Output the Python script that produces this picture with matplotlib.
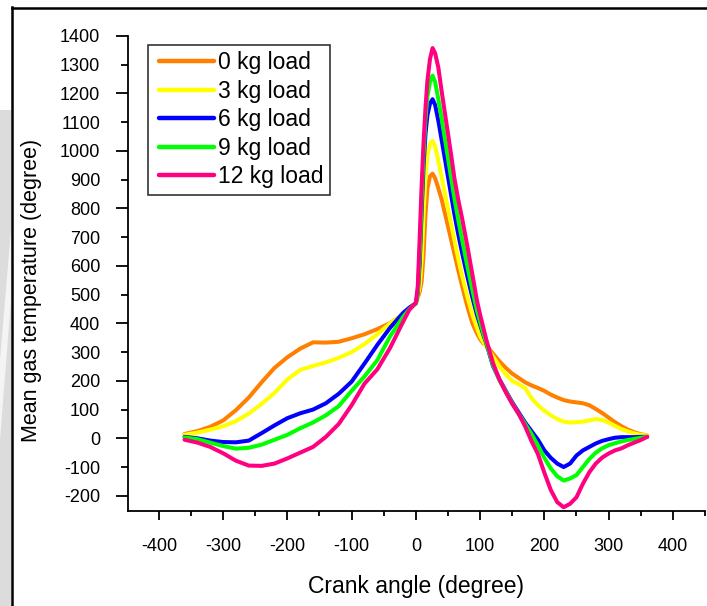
import matplotlib
matplotlib.use('Agg')
import matplotlib.pyplot as plt
from matplotlib.ticker import MultipleLocator, FormatStrFormatter, NullFormatter
from matplotlib.patches import Rectangle, Polygon
from matplotlib.lines import Line2D
from matplotlib.legend_handler import HandlerLine2D

plt.rcParams['font.family'] = ['Liberation Sans', 'DejaVu Sans']
plt.rcParams['axes.unicode_minus'] = False

# crank angle (degree), shared by all load cases
ANGLE = [-360, -340, -320, -300, -280, -260, -240, -220, -200, -180, -160, -140,
         -120, -100, -80, -60, -40, -20, -10, 0, 3, 6, 9, 12, 15, 18, 22, 26,
         30, 35, 40, 45, 50, 55, 60, 66, 72, 80, 88, 95, 100, 105, 110, 120,
         130, 140, 150, 160, 170, 180, 190, 200, 210, 220, 230, 240, 250, 260,
         270, 280, 290, 300, 310, 320, 330, 340, 350, 360]

# mean gas temperature for each load
T_0KG = [15, 25, 40, 62, 98, 142, 195, 245, 282, 312, 334, 333, 336, 348, 362, 380, 401, 430,
         450, 470,
         490, 510, 545, 640, 780, 870,
         912, 921, 905, 870, 832, 785, 738, 690, 642,
         585, 530, 460, 400, 365, 345, 330, 322,
         295, 268, 245, 225, 210, 195, 184, 175, 165, 152, 142, 133, 128, 125, 122, 115,
         102, 88, 72, 56, 42, 30, 21, 14, 10]
T_3KG = [12, 20, 30, 42, 60, 86, 120, 158, 205, 238, 252, 264, 280, 300, 328, 362, 400, 432,
         452, 472,
         495, 530, 620, 780, 910, 985,
         1025, 1035, 1015, 965, 910, 855, 800, 745, 690,
         625, 565, 495, 430, 385, 355, 335, 318,
         285, 250, 222, 200, 188, 175, 140, 115, 96, 80, 67, 58, 55, 56, 58, 62,
         67, 64, 55, 43, 32, 24, 17, 12, 10]
T_6KG = [5, 0, -8, -13, -14, -8, 18, 45, 70, 87, 100, 122, 155, 197, 260, 325, 385, 436,
         455, 470,
         505, 610, 790, 950, 1060, 1125,
         1165, 1180, 1160, 1105, 1040, 975, 910, 845, 780,
         710, 645, 565, 490, 430, 395, 360, 328,
         252, 205, 165, 125, 90, 55, 25, -5, -42, -68, -88, -100, -88, -60, -42, -30,
         -18, -9, -3, 2, 4, 4, 4, 5, 5]
T_9KG = [3, -3, -15, -27, -36, -33, -22, -5, 12, 35, 55, 80, 112, 165, 215, 272, 355, 422,
         450, 470,
         510, 640, 830, 990, 1110, 1190,
         1240, 1262, 1240, 1180, 1115, 1045, 975, 905, 835,
         760, 690, 600, 515, 445, 405, 365, 330,
         255, 203, 163, 122, 85, 50, 15, -25, -68, -105, -132, -147, -140, -128, -100, -72,
         -50, -35, -24, -17, -11, -6, -2, 2, 5]
T_12KG = [-5, -15, -30, -52, -78, -95, -96, -88, -70, -50, -30, 5, 50, 115, 190, 240, 315, 405,
          448, 472,
          530, 700, 880, 1030, 1150, 1245,
          1320, 1358, 1340, 1290, 1210, 1135, 1060, 985, 905,
          830, 765, 670, 570, 480, 430, 385, 340,
          262, 205, 160, 120, 85, 42, -10, -55, -120, -180, -222, -240, -228, -205, -158, -118,
          -88, -67, -53, -42, -35, -24, -15, -6, 5]

LABELS = ['0 kg load', '3 kg load', '6 kg load', '9 kg load', '12 kg load']
COLORS = ['#FF8000', '#FFFF00', '#0000FF', '#00FF00', '#FF0080']


def main():
    fig = plt.figure(figsize=(7.07, 6.06), dpi=100)
    W, H = 707, 606

    # page background: grey strip and frame lines
    fig.add_artist(Rectangle((0, 0), 11 / W, 1 - 110 / H, transform=fig.transFigure,
                             facecolor='#dcdcdc', edgecolor='none', zorder=0))
    fig.add_artist(Polygon([(11 / W, 1 - 230 / H), (11 / W, 1 - 300 / H),
                            (0, 1 - 440 / H), (0, 1 - 360 / H)],
                           closed=True, transform=fig.transFigure,
                           facecolor='#f4f4f4', edgecolor='none', zorder=0))
    fig.add_artist(Line2D([11.5 / W, 11.5 / W], [0, 1 - 7 / H], transform=fig.transFigure,
                          color='black', lw=1.8))
    fig.add_artist(Line2D([11.5 / W, 1], [1 - 7.5 / H, 1 - 7.5 / H], transform=fig.transFigure,
                          color='black', lw=1.8))

    ax = fig.add_axes([128 / W, 1 - 511 / H, (705 - 128) / W, (511 - 36) / H])
    series = [T_0KG, T_3KG, T_6KG, T_9KG, T_12KG]
    for vals, lab, col in zip(series, LABELS, COLORS):
        ax.plot(ANGLE, vals, color=col, lw=2.9, label=lab, solid_capstyle='round')

    ax.set_xlim(-448, 450)
    ax.set_ylim(-253, 1400)

    for side in ('top', 'right'):
        ax.spines[side].set_visible(False)
    for side in ('left', 'bottom'):
        ax.spines[side].set_linewidth(1.3)

    ax.xaxis.set_major_locator(MultipleLocator(100))
    ax.xaxis.set_minor_locator(MultipleLocator(50))
    ax.xaxis.set_minor_formatter(NullFormatter())
    ax.yaxis.set_major_locator(MultipleLocator(200))
    ax.yaxis.set_minor_locator(MultipleLocator(100))
    ax.yaxis.set_minor_formatter(FormatStrFormatter('%d'))

    ax.tick_params(axis='x', which='major', length=6.5, width=1.3, pad=13, labelsize=13)
    ax.tick_params(axis='x', which='minor', length=3.6, width=1.3)
    ax.tick_params(axis='y', which='major', length=8.6, width=1.3, pad=11.5, labelsize=13)
    ax.tick_params(axis='y', which='minor', length=5, width=1.3, pad=15, labelsize=13)

    ax.set_xlabel('Crank angle (degree)', fontsize=16.5)
    ax.set_ylabel('Mean gas temperature (degree)', fontsize=15.5)
    ax.xaxis.set_label_coords(0.499, -0.135)
    ax.yaxis.set_label_coords(-0.149, 0.465)

    leg = ax.legend(loc='upper left', bbox_to_anchor=(148 / W, 1 - 45 / H),
                    bbox_transform=fig.transFigure, borderaxespad=0,
                    fontsize=16.5, handlelength=2.6, handletextpad=0.17,
                    labelspacing=0.24, borderpad=0.28, fancybox=False,
                    framealpha=1, edgecolor='#333333',
                    handler_map={Line2D: HandlerLine2D(xpad=0.22)})
    leg.get_frame().set_linewidth(1.2)
    for line in leg.get_lines():
        line.set_linewidth(3.2)

    fig.savefig('out.png', dpi=100)


if __name__ == '__main__':
    main()
